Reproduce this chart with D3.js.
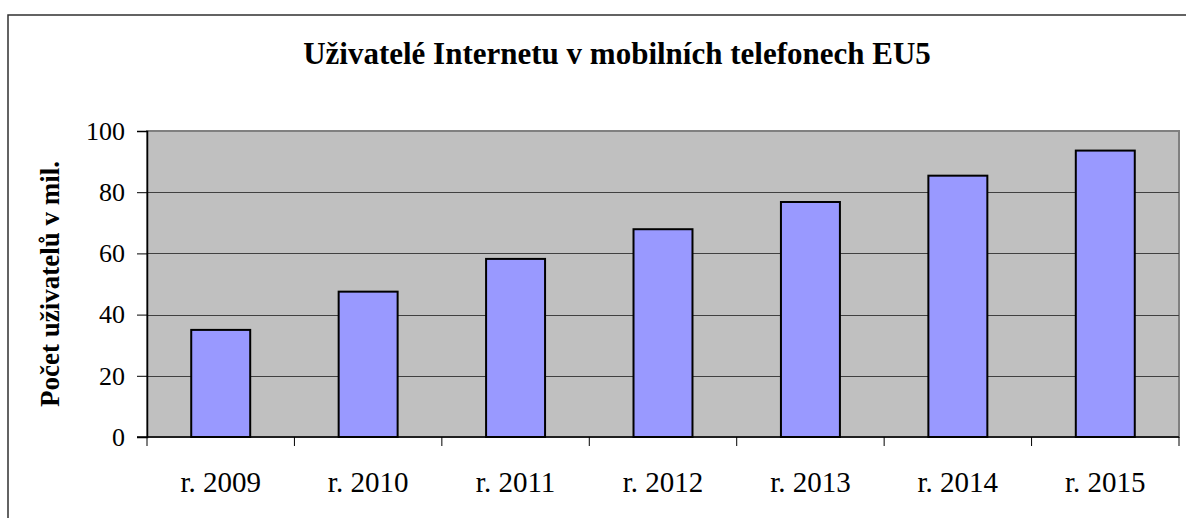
<!DOCTYPE html>
<html><head><meta charset="utf-8">
<script src="https://cdn.jsdelivr.net/npm/d3@7"></script>
<style>
html,body{margin:0;padding:0;background:#fff;}
svg{display:block;}
text{font-family:"Liberation Serif","Times New Roman",serif;fill:#000;}
</style></head>
<body>
<script>
const categories = ["r. 2009","r. 2010","r. 2011","r. 2012","r. 2013","r. 2014","r. 2015"];
const values = [35.0, 47.5, 58.2, 67.9, 76.8, 85.4, 93.6];
const yTicks = [0,20,40,60,80,100];
const title = "Uživatelé Internetu v mobilních telefonech EU5";
const yTitle = "Počet uživatelů v mil.";

const W = 1186, H = 518;
const plot = {left:147, right:1179, top:131, bottom:437};
const SERIF = "Liberation Serif, Times New Roman, serif";

const svg = d3.select("body").append("svg").attr("width",W).attr("height",H);

// outer chart border
svg.append("rect").attr("x",8).attr("y",15).attr("width",1300).attr("height",600)
  .attr("fill","#fff").attr("stroke","#303030").attr("stroke-width",1.5);

const x = d3.scaleBand().domain(categories).range([plot.left,plot.right])
  .paddingInner(0.6).paddingOuter(0.3);
const y = d3.scaleLinear().domain([0,100]).range([plot.bottom,plot.top]);

// plot background
svg.append("rect").attr("x",plot.left).attr("y",plot.top)
  .attr("width",plot.right-plot.left).attr("height",plot.bottom-plot.top)
  .attr("fill","#c0c0c0").attr("stroke","#808080").attr("stroke-width",2);

// gridlines
svg.append("g").selectAll("line").data(yTicks.filter(d=>d>0 && d<100)).join("line")
  .attr("x1",plot.left).attr("x2",plot.right)
  .attr("y1",d=>Math.round(y(d))+0.5).attr("y2",d=>Math.round(y(d))+0.5)
  .attr("stroke","#404040").attr("stroke-width",1);

// bars
svg.append("g").selectAll("rect").data(values).join("rect")
  .attr("x",(d,i)=>x(categories[i]))
  .attr("y",d=>y(d))
  .attr("width",x.bandwidth())
  .attr("height",d=>plot.bottom-y(d))
  .attr("fill","#9999ff").attr("stroke","#000").attr("stroke-width",2);

// y axis
const yAxis = d3.axisLeft(y).tickValues(yTicks).tickSize(10).tickPadding(12);
const gy = svg.append("g").attr("transform",`translate(${plot.left},0)`).call(yAxis)
  .attr("font-family",SERIF).attr("font-size",26);
gy.select(".domain").attr("stroke","#000").attr("stroke-width",1.5);
gy.selectAll(".tick line").attr("stroke","#000");
gy.selectAll("text").attr("font-family",SERIF).style("font-family",SERIF).style("font-size","26px").attr("fill","#000");

// x axis
const xEdges = d3.scalePoint().domain(d3.range(categories.length+1)).range([plot.left,plot.right]);
const gx = svg.append("g").attr("transform",`translate(0,${plot.bottom})`);
gx.append("line").attr("x1",plot.left-10).attr("x2",plot.right).attr("stroke","#000").attr("stroke-width",1.5);
gx.selectAll("line.t").data(d3.range(categories.length+1)).join("line").attr("class","t")
  .attr("x1",d=>xEdges(d)).attr("x2",d=>xEdges(d)).attr("y1",0).attr("y2",9).attr("stroke","#000");
gx.selectAll("text").data(categories).join("text")
  .attr("x",d=>x(d)+x.bandwidth()/2).attr("y",55)
  .attr("text-anchor","middle").style("font-family",SERIF).style("font-size","29px").text(d=>d);

// title
svg.append("text").attr("x",617).attr("y",64).attr("text-anchor","middle")
  .style("font-family",SERIF).style("font-size","31px").style("font-weight","bold").text(title);

// y title
svg.append("text").attr("transform",`translate(59,${(plot.top+plot.bottom)/2}) rotate(-90)`)
  .attr("text-anchor","middle").style("font-family",SERIF)
  .style("font-size","27px").style("font-weight","bold").text(yTitle);
</script>
</body></html>
